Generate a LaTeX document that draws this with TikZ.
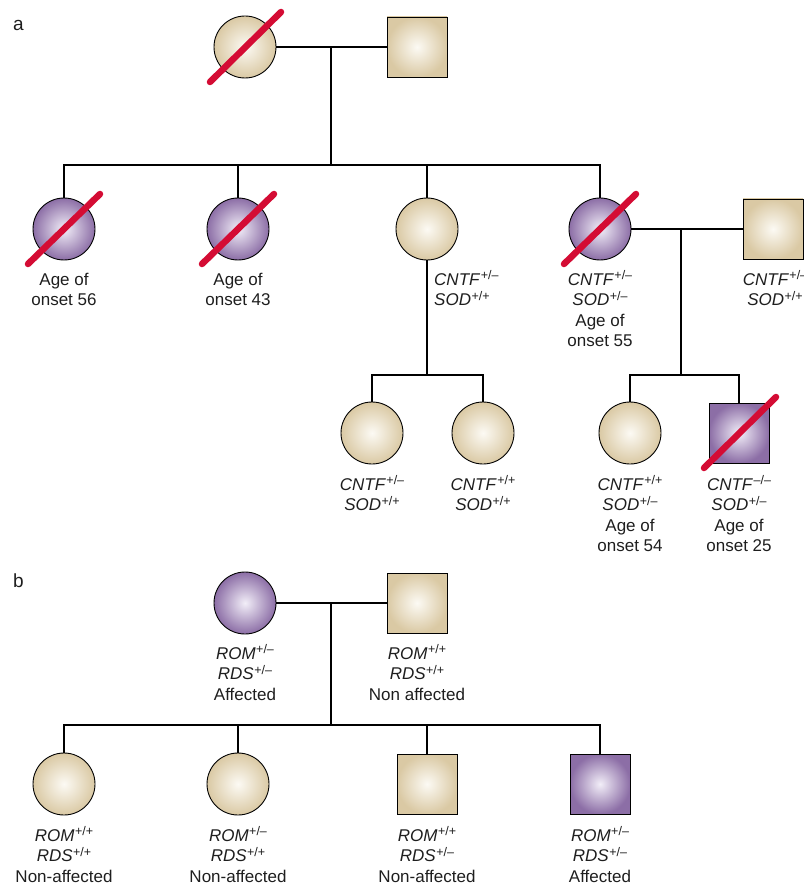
\documentclass[tikz,border=0pt]{standalone}
\usepackage{fontspec}
\setmainfont{Liberation Sans}
\usetikzlibrary{calc}
\definecolor{beigeE}{RGB}{218,201,164}
\definecolor{beigeC}{RGB}{252,250,244}
\definecolor{purpE}{RGB}{140,110,166}
\definecolor{purpC}{RGB}{242,238,248}
\definecolor{slashred}{RGB}{212,12,52}
\definecolor{txt}{RGB}{30,30,30}
\newcommand\gen[2]{\textit{#1}\kern0.5pt\raisebox{5.2pt}{\fontsize{12.5}{12.5}\selectfont #2}}
\begin{document}
\begin{tikzpicture}[x=1pt,y=-1pt,
 fem/.style={circle,draw=black,line width=0.9pt,minimum size=62pt,inner sep=0pt},
 mal/.style={rectangle,draw=black,line width=0.9pt,minimum size=60pt,inner sep=0pt},
 beige/.style={inner color=beigeC,outer color=beigeE},
 purp/.style={inner color=purpC,outer color=purpE},
 lbl/.style={align=center,inner sep=0pt,anchor=base,text=txt,font=\fontsize{17}{20.5}\selectfont},
 panel/.style={inner sep=0pt,anchor=base west,text=txt,font=\fontsize{19}{19}\selectfont},
 link/.style={line width=2.6pt},
 slash/.style={draw=slashred,line width=6.5pt,line cap=round}]
\useasboundingbox (0,0) rectangle (803,885);

% ---------- panel a ----------
\node[panel] (la) at (13,31) {a};
\node[fem,beige] (g1) at (245,47) {};
\node[mal,beige] (g2) at (417,47) {};
\coordinate (m1) at (331,47);
\coordinate (s1) at (331,165);

\node[fem,purp] (k1) at (64,229) {};
\node[fem,purp] (k2) at (238,229) {};
\node[fem,beige] (k3) at (427,229) {};
\node[fem,purp] (k4) at (600,229) {};
\node[mal,beige] (sp) at (773,229) {};
\coordinate (m2) at (681,229);
\coordinate (s2) at (681,375);
\coordinate (s3) at (427,375);

\node[fem,beige] (gc1) at (372,433) {};
\node[fem,beige] (gc2) at (483,433) {};
\node[fem,beige] (gc3) at (630,433) {};
\node[mal,purp] (gc4) at (739,433) {};

\draw[link] (g1.east) -- (g2.west);
\draw[link] (m1) -- (s1);
\draw[link] (k1.north) |- (s1) -| (k4.north);
\draw[link] (k2.north) -- (k2.north |- s1);
\draw[link] (k3.north) -- (k3.north |- s1);
\draw[link] (k4.east) -- (sp.west);
\draw[link] (m2) -- (s2);
\draw[link] (k3.south) -- (s3);
\draw[link] (gc1.north) |- (s3) -| (gc2.north);
\draw[link] (gc3.north) |- (s2) -| (gc4.north);

\draw[slash] ($(g1.center)+(-35,35)$) -- ($(g1.center)+(36,-35)$);
\draw[slash] ($(k1.center)+(-36,35)$) -- ($(k1.center)+(36,-35)$);
\draw[slash] ($(k2.center)+(-36,35)$) -- ($(k2.center)+(36,-35)$);
\draw[slash] ($(k4.center)+(-36,35)$) -- ($(k4.center)+(36,-35)$);
\draw[slash] ($(gc4.center)+(-35,35)$) -- ($(gc4.center)+(37,-36)$);

% anchor=base is the baseline of the last line
\node[lbl] (t1) at (64,305.5) {Age of\\onset 56};
\node[lbl] (t2) at (238,305.5) {Age of\\onset 43};
\node[lbl,anchor=base west,align=left] (t3) at (434,305.5) {\gen{CNTF}{+/–}\\\gen{SOD}{+/+}};
\node[lbl] (t4) at (600,346.5) {\gen{CNTF}{+/–}\\\gen{SOD}{+/–}\\Age of\\onset 55};
\node[lbl] (t5) at (775,305.5) {\gen{CNTF}{+/–}\\\gen{SOD}{+/+}};
\node[lbl] (t6) at (372,510.5) {\gen{CNTF}{+/–}\\\gen{SOD}{+/+}};
\node[lbl] (t7) at (483,510.5) {\gen{CNTF}{+/+}\\\gen{SOD}{+/+}};
\node[lbl] (t8) at (630,551.5) {\gen{CNTF}{+/+}\\\gen{SOD}{+/–}\\Age of\\onset 54};
\node[lbl] (t9) at (739,551.5) {\gen{CNTF}{–/–}\\\gen{SOD}{+/–}\\Age of\\onset 25};

% ---------- panel b ----------
\node[panel] (lb) at (13,587) {b};
\node[fem,purp] (p1) at (245,603) {};
\node[mal,beige] (p2) at (417,603) {};
\coordinate (m3) at (331,603);
\coordinate (s4) at (331,725);

\node[fem,beige] (c1) at (64,784) {};
\node[fem,beige] (c2) at (238,784) {};
\node[mal,beige] (c3) at (427,784) {};
\node[mal,purp] (c4) at (600,784) {};

\draw[link] (p1.east) -- (p2.west);
\draw[link] (m3) -- (s4);
\draw[link] (c1.north) |- (s4) -| (c4.north);
\draw[link] (c2.north) -- (c2.north |- s4);
\draw[link] (c3.north) -- (c3.north |- s4);

\node[lbl] (u1) at (245,700) {\gen{ROM}{+/–}\\\gen{RDS}{+/–}\\Affected};
\node[lbl] (u2) at (417,700) {\gen{ROM}{+/+}\\\gen{RDS}{+/+}\\Non affected};
\node[lbl] (v1) at (64,882) {\gen{ROM}{+/+}\\\gen{RDS}{+/+}\\Non-affected};
\node[lbl] (v2) at (238,882) {\gen{ROM}{+/–}\\\gen{RDS}{+/+}\\Non-affected};
\node[lbl] (v3) at (427,882) {\gen{ROM}{+/+}\\\gen{RDS}{+/–}\\Non-affected};
\node[lbl] (v4) at (600,882) {\gen{ROM}{+/–}\\\gen{RDS}{+/–}\\Affected};
\end{tikzpicture}
\end{document}
